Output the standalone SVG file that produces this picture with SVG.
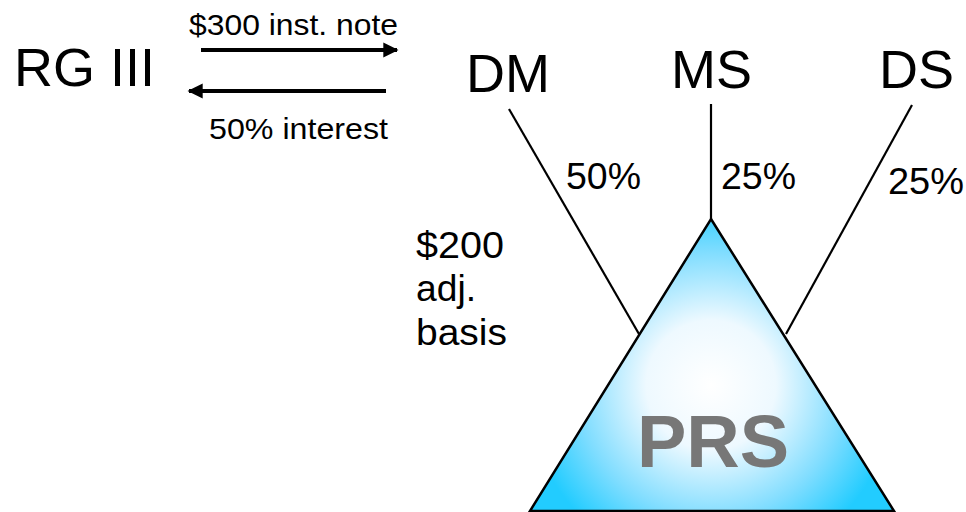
<svg xmlns="http://www.w3.org/2000/svg" width="966" height="512" viewBox="0 0 966 512">
<style>
text{font-family:"Liberation Sans",Arial,sans-serif;fill:#000}
.big{font-size:54px}
.mid{font-size:37px}
.sm{font-size:30px}
.ln{stroke:#000;stroke-width:2.2;fill:none}
.ar{stroke:#000;stroke-width:4;fill:none}
</style>
<defs>
<radialGradient id="g" gradientUnits="userSpaceOnUse" cx="711" cy="385" r="185">
<stop offset="0" stop-color="#ffffff"/>
<stop offset="0.35" stop-color="#eef9ff"/>
<stop offset="0.72" stop-color="#80ddff"/>
<stop offset="1" stop-color="#22ccff"/>
</radialGradient>
<marker id="ah" viewBox="0 0 10 10" refX="9" refY="5" markerWidth="4" markerHeight="3.8" orient="auto" markerUnits="strokeWidth">
<path d="M0,0 L10,5 L0,10 z" fill="#000"/>
</marker>
</defs>
<g id="connectors">
<line class="ar" x1="201" y1="50" x2="397" y2="50" marker-end="url(#ah)"/>
<line class="ar" x1="386" y1="91" x2="189" y2="91" marker-end="url(#ah)"/>
<line class="ln" x1="509" y1="109" x2="639" y2="334"/>
<line class="ln" x1="711" y1="104" x2="711" y2="219"/>
<line class="ln" x1="912" y1="105" x2="786" y2="334"/>
</g>
<g id="rg3"><text class="big" x="14" y="86">RG III</text></g>
<g id="dm"><text class="big" x="466" y="92">DM</text></g>
<g id="ms"><text class="big" x="671" y="88">MS</text></g>
<g id="ds"><text class="big" x="879" y="88">DS</text></g>
<g id="labels">
<text class="sm" x="189" y="35" textLength="209" lengthAdjust="spacingAndGlyphs">$300 inst. note</text>
<text class="sm" x="209" y="139" textLength="179" lengthAdjust="spacingAndGlyphs">50% interest</text>
<text class="mid" x="566" y="189" textLength="75" lengthAdjust="spacingAndGlyphs">50%</text>
<text class="mid" x="721" y="189" textLength="75" lengthAdjust="spacingAndGlyphs">25%</text>
<text class="mid" x="888" y="194" textLength="76" lengthAdjust="spacingAndGlyphs">25%</text>
<text class="mid" x="416" y="258" textLength="88" lengthAdjust="spacingAndGlyphs">$200</text>
<text class="mid" x="416" y="301" textLength="60" lengthAdjust="spacingAndGlyphs">adj.</text>
<text class="mid" x="416" y="345" textLength="91" lengthAdjust="spacingAndGlyphs">basis</text>
</g>
<g id="prs">
<polygon points="711,219 894,511 530,511" fill="url(#g)" stroke="#000" stroke-width="2.5" stroke-linejoin="miter"/>
<text x="713" y="467" text-anchor="middle" style="font-size:74px;font-weight:bold;fill:#777777">PRS</text>
</g>
</svg>
